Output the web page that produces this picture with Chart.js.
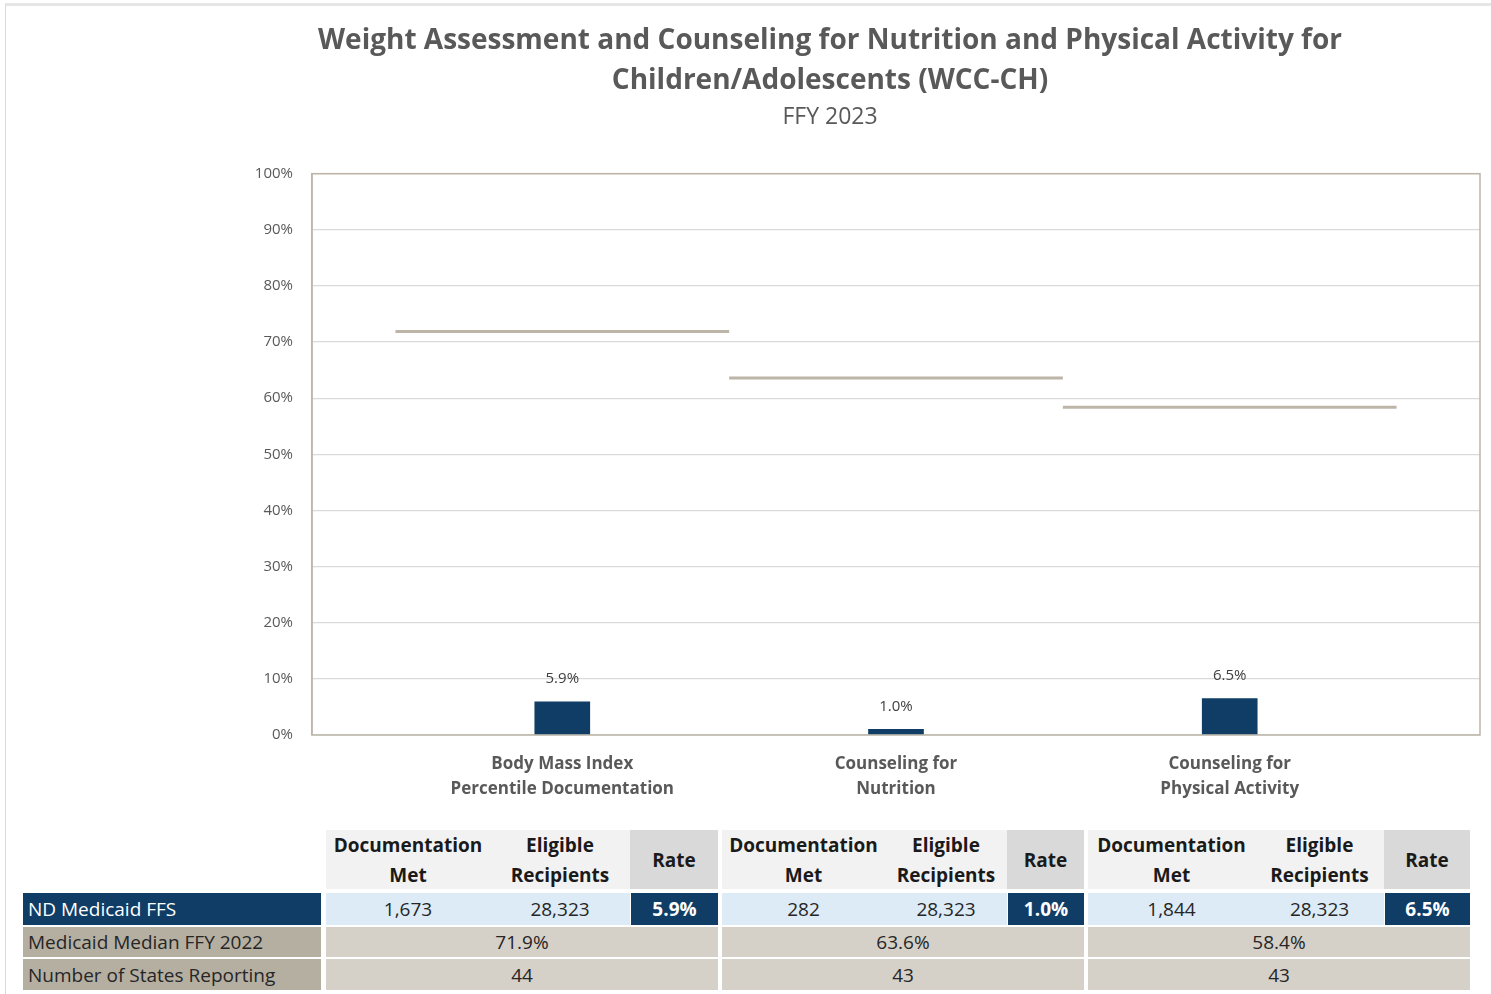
<!DOCTYPE html>
<html>
<head>
<meta charset="utf-8">
<script src="https://cdn.jsdelivr.net/npm/chart.js@4/dist/chart.umd.min.js"></script>
<style>
  body { margin: 0; background: #fff; font-family: "Open Sans", sans-serif; overflow: hidden; }
  #frame { position: absolute; left: 5px; top: 3px; width: 1500px; height: 1000px; border-left: 1px solid #DADADA; border-top: 3px solid #E6E6E6; }
  #wrap { position: absolute; left: 0; top: 0; width: 1491px; height: 820px; overflow: hidden; }
  .cell { position: absolute; box-sizing: border-box; display: flex; align-items: center; justify-content: center; text-align: center; font-size: 19px; color: #262626; line-height: 30px; }
  .hdr { font-weight: 700; color: #1a1a1a; }
  .lbl { justify-content: flex-start; padding-left: 5px; }
</style>
</head>
<body>
<div id="frame"></div>
<div id="wrap"><canvas id="wcc"></canvas></div>
<div id="tbl"></div>
<script>
var categories = [
  ['Body Mass Index', 'Percentile Documentation'],
  ['Counseling for', 'Nutrition'],
  ['Counseling for', 'Physical Activity']
];
var ndRates = [5.9, 1.0, 6.5];
var medianRates = [71.9, 63.6, 58.4];
var docMet = ['1,673', '282', '1,844'];
var eligible = ['28,323', '28,323', '28,323'];
var statesReporting = [44, 43, 43];
var rowLabels = ['ND Medicaid FFS', 'Medicaid Median FFY 2022', 'Number of States Reporting'];

var navy = '#0F3D66';
var tan = '#BDB6A8';

var datasets = [{
  type: 'bar',
  label: 'ND Medicaid FFS',
  data: ndRates.map(function (v, i) { return { x: i, y: v }; }),
  backgroundColor: navy,
  barThickness: 55,
  order: 2
}];
for (var i = 0; i < medianRates.length; i++) {
  datasets.push({
    type: 'line',
    label: 'Median',
    data: [{ x: i - 0.5, y: medianRates[i] }, { x: i + 0.5, y: medianRates[i] }],
    borderColor: tan,
    borderWidth: 3,
    pointRadius: 0,
    order: 1
  });
}

var frame = {
  id: 'frame',
  afterDraw: function (chart) {
    var a = chart.chartArea, c = chart.ctx;
    c.save();
    c.strokeStyle = tan;
    c.lineWidth = 1.5;
    c.strokeRect(a.left, a.top, a.right - a.left, a.bottom - a.top);
    c.restore();
  }
};

var barLabels = {
  id: 'barLabels',
  afterDatasetsDraw: function (chart) {
    var c = chart.ctx;
    var meta = chart.getDatasetMeta(0);
    c.save();
    c.font = '15px "Open Sans"';
    c.fillStyle = '#404040';
    c.textAlign = 'center';
    c.textBaseline = 'middle';
    meta.data.forEach(function (bar, i) {
      c.fillText(ndRates[i].toFixed(1) + '%', bar.x, bar.y - 23);
    });
    c.restore();
  }
};

// canvas is wider than the window so the title centres over x=830 like the original;
// an empty right axis takes up the extra width
var canvas = document.getElementById('wcc');
canvas.width = 1660; canvas.height = 820;
new Chart(canvas, {
  data: { datasets: datasets },
  plugins: [frame, barLabels],
  options: {
    responsive: false,
    animation: false,
    layout: { padding: 0 },
    plugins: {
      legend: { display: false },
      tooltip: { enabled: false },
      title: {
        display: true,
        text: ['Weight Assessment and Counseling for Nutrition and Physical Activity for', 'Children/Adolescents (WCC-CH)'],
        color: '#595959',
        font: { family: 'Open Sans', size: 28, weight: 'bold', lineHeight: 1.43 },
        padding: { top: 21, bottom: 0 }
      },
      subtitle: {
        display: true,
        text: 'FFY 2023',
        color: '#595959',
        font: { family: 'Open Sans', size: 23, weight: 'normal', lineHeight: 1.2 },
        padding: { top: 3, bottom: 42 }
      }
    },
    scales: {
      x: {
        type: 'linear',
        min: -0.75,
        max: 2.75,
        offset: false,
        afterBuildTicks: function (s) { s.ticks = categories.map(function (c, i) { return { value: i }; }); },
        afterFit: function (s) { s.height = 85; },
        grid: { display: false },
        border: { display: false },
        ticks: {
          padding: 8,
          color: '#595959',
          font: { family: 'Open Sans', size: 17, weight: 'bold', lineHeight: 1.5 },
          callback: function (v) { return categories[v]; }
        }
      },
      y: {
        min: 0,
        max: 100,
        afterFit: function (s) { s.width = 312; },
        grid: { color: '#D9D9D9', lineWidth: 1.2, drawTicks: false },
        border: { color: tan, width: 1.5 },
        ticks: {
          stepSize: 10,
          padding: 19,
          color: '#595959',
          font: { family: 'Open Sans', size: 15 },
          callback: function (v) { return v + '%'; }
        }
      },
      y2: {
        position: 'right',
        min: 0,
        max: 100,
        afterFit: function (s) { s.width = 180; },
        grid: { display: false },
        border: { display: false },
        ticks: { display: false }
      }
    }
  }
});

// data table under the chart
var groups = [
  { doc: [326, 490], elig: [490, 630], rate: [630, 718] },
  { doc: [722, 885], elig: [885, 1007], rate: [1007, 1084] },
  { doc: [1088, 1255], elig: [1255, 1384], rate: [1384, 1470] }
];
var rows = { hdr: [830, 889], nd: [893, 925], med: [927, 957], st: [959, 990] };
var tbl = document.getElementById('tbl');
function cell(x0, x1, r, html, bg, cls, color) {
  var d = document.createElement('div');
  d.className = 'cell ' + (cls || '');
  d.style.left = x0 + 'px';
  d.style.width = (x1 - x0) + 'px';
  d.style.top = r[0] + 'px';
  d.style.height = (r[1] - r[0]) + 'px';
  d.style.background = bg;
  if (color) d.style.color = color;
  d.innerHTML = html;
  tbl.appendChild(d);
}
cell(23, 321, rows.nd, rowLabels[0], navy, 'lbl', '#fff');
cell(23, 321, rows.med, rowLabels[1], '#B5AFA2', 'lbl');
cell(23, 321, rows.st, rowLabels[2], '#B5AFA2', 'lbl');
groups.forEach(function (g, i) {
  cell(g.doc[0], g.doc[1], rows.hdr, 'Documentation<br>Met', '#F2F2F2', 'hdr');
  cell(g.elig[0], g.elig[1], rows.hdr, 'Eligible<br>Recipients', '#F2F2F2', 'hdr');
  cell(g.rate[0], g.rate[1], rows.hdr, 'Rate', '#D9D9D9', 'hdr');
  cell(g.doc[0], g.doc[1], rows.nd, docMet[i], '#DDEBF7');
  cell(g.elig[0], g.elig[1], rows.nd, eligible[i], '#DDEBF7');
  cell(g.rate[0] + 1, g.rate[1], rows.nd, ndRates[i].toFixed(1) + '%', navy, 'hdr', '#fff');
  cell(g.doc[0], g.rate[1], rows.med, medianRates[i].toFixed(1) + '%', '#D5D0C8');
  cell(g.doc[0], g.rate[1], rows.st, String(statesReporting[i]), '#D5D0C8');
});
</script>
</body>
</html>
